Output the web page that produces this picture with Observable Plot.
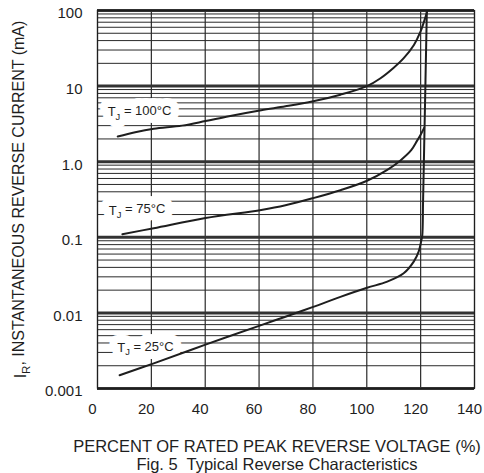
<!DOCTYPE html>
<html>
<head>
<meta charset="utf-8">
<script src="https://cdn.jsdelivr.net/npm/d3@7"></script>
<script src="https://cdn.jsdelivr.net/npm/@observablehq/plot@0.6"></script>
<style>
  html, body { margin: 0; padding: 0; background: #fff; }
  #chart svg { display: block; }
</style>
</head>
<body>
<div id="chart"></div>
<script>
// ---- data ----
const xTicks = [0, 20, 40, 60, 80, 100, 120, 140];
const yTicks = [0.001, 0.01, 0.1, 1, 10, 100];
const yTickLabels = ["0.001", "0.01", "0.1", "1.0", "10", "100"];

// T_J = 100 °C
const pct100 = [7.5, 14, 20.9, 31.4, 40.1, 48.8, 60.8, 69.8, 80.1, 90.2, 100.1, 105.1, 110, 113.8, 117.5, 119.9, 121.8, 122.4];
const ir100  = [2.15, 2.45, 2.72, 3.0, 3.45, 4.0, 4.8, 5.4, 6.3, 7.7, 10, 12.7, 17.5, 23.6, 35, 52, 82, 98];

// T_J = 75 °C
const pct75 = [9.2, 20.9, 40.1, 60.8, 69.8, 80.1, 90.2, 100.1, 107.6, 112.5, 116.5, 118.7, 120.2, 121.3];
const ir75  = [0.11, 0.132, 0.18, 0.23, 0.265, 0.33, 0.42, 0.56, 0.78, 1.04, 1.42, 1.9, 2.35, 2.8];

// T_J = 25 °C
const pct25 = [8.2, 20.9, 40.1, 60.8, 69.8, 80.1, 90.2, 100.1, 107.6, 113.7, 117.5, 119.3, 120.2, 120.6, 120.9, 121.3, 121.8, 122.3];
const ir25  = [0.0015, 0.00215, 0.0038, 0.0069, 0.0089, 0.012, 0.0163, 0.0215, 0.0259, 0.0334, 0.048, 0.065, 0.089, 0.105, 0.3, 1.5, 12, 98];

const curveLabels = ["T_J = 100°C", "T_J = 75°C", "T_J = 25°C"];
const labelPct = [15.6, 14.7, 17.8];
const labelIr  = [4.5, 0.227, 0.00344];

const xTitle = "PERCENT OF RATED PEAK REVERSE VOLTAGE (%)";
const yTitle = "I_R, INSTANTANEOUS REVERSE CURRENT (mA)";
const caption = "Fig. 5  Typical Reverse Characteristics";

// ---- derived tables ----
const toRows = (xs, ys) => xs.map((x, i) => ({x, y: ys[i]}));
const c100 = toRows(pct100, ir100);
const c75 = toRows(pct75, ir75);
const c25 = toRows(pct25, ir25);
const labels = curveLabels.map((t, i) => ({text: t, x: labelPct[i], y: labelIr[i]}));

const decades = yTicks;
const minor = [];
for (let k = 0; k < decades.length - 1; k++) {
  for (let m = 2; m <= 9; m++) minor.push(+(m * decades[k]).toPrecision(3));
}

const ink = "#1e1e1e";
const font = "'Liberation Sans', Arial, Helvetica, sans-serif";

const chart = Plot.plot({
  width: 484,
  height: 473,
  marginLeft: 97,
  marginRight: 10,
  marginTop: 10,
  marginBottom: 85,
  style: {fontFamily: font, color: ink, background: "#fff"},
  x: {domain: [0, 140]},
  y: {type: "log", domain: [0.001, 100]},
  marks: [
    Plot.ruleY(minor, {stroke: "#2a2a2a", strokeWidth: 1}),
    Plot.ruleX(xTicks, {stroke: "#2a2a2a", strokeWidth: 1.2}),
    Plot.ruleY(decades, {stroke: "#333", strokeWidth: 3}),
    Plot.frame({stroke: ink, strokeWidth: 1.2}),
    // white boxes behind the curve labels
    Plot.text(labels, {x: "x", y: "y", text: "text", fill: "white", stroke: "white", strokeWidth: 16, fontSize: 13, textAnchor: "middle", lineAnchor: "middle"}),
    Plot.text(labels, {x: "x", y: "y", text: "text", fill: ink, fontSize: 13, textAnchor: "middle", lineAnchor: "middle"}),
    Plot.line(c100, {x: "x", y: "y", curve: "catmull-rom", stroke: ink, strokeWidth: 2}),
    Plot.line(c75, {x: "x", y: "y", curve: "catmull-rom", stroke: ink, strokeWidth: 2}),
    Plot.line(c25, {x: "x", y: "y", curve: "catmull-rom", stroke: ink, strokeWidth: 2}),
    Plot.axisX(xTicks, {tickSize: 0, tickPadding: 15, fontSize: 15, fill: ink, label: null, dx: -5, tickFormat: d => String(d)}),
    Plot.axisY(yTicks, {tickSize: 0, tickPadding: 15, fontSize: 15, fill: ink, label: null, dy: 3,
      tickFormat: d => yTickLabels[yTicks.indexOf(d)]}),
    Plot.text([xTitle], {frameAnchor: "bottom", textAnchor: "middle", lineAnchor: "middle", dy: 58, dx: -9, fontSize: 16.5, fill: ink}),
    Plot.text([caption], {frameAnchor: "bottom", textAnchor: "middle", lineAnchor: "middle", dy: 76, dx: -9, fontSize: 16.5, fill: ink}),
    Plot.text([yTitle], {frameAnchor: "left", textAnchor: "middle", lineAnchor: "middle", dx: -77, rotate: -90, fontSize: 16, fill: ink})
  ]
});

// subscripts for T_J and I_R
d3.select(chart).selectAll("text").each(function() {
  const el = d3.select(this);
  if (el.selectAll("tspan").size() > 0) return;
  const s = el.text();
  const m = s.match(/^([A-Z])_([A-Z])(.*)$/);
  if (!m) return;
  el.text(null);
  el.append("tspan").text(m[1]);
  el.append("tspan").attr("dy", "0.35em").attr("font-size", "0.72em").text(m[2]);
  el.append("tspan").attr("dy", "-0.35em").text(m[3]);
});

document.getElementById("chart").appendChild(chart);
</script>
</body>
</html>
